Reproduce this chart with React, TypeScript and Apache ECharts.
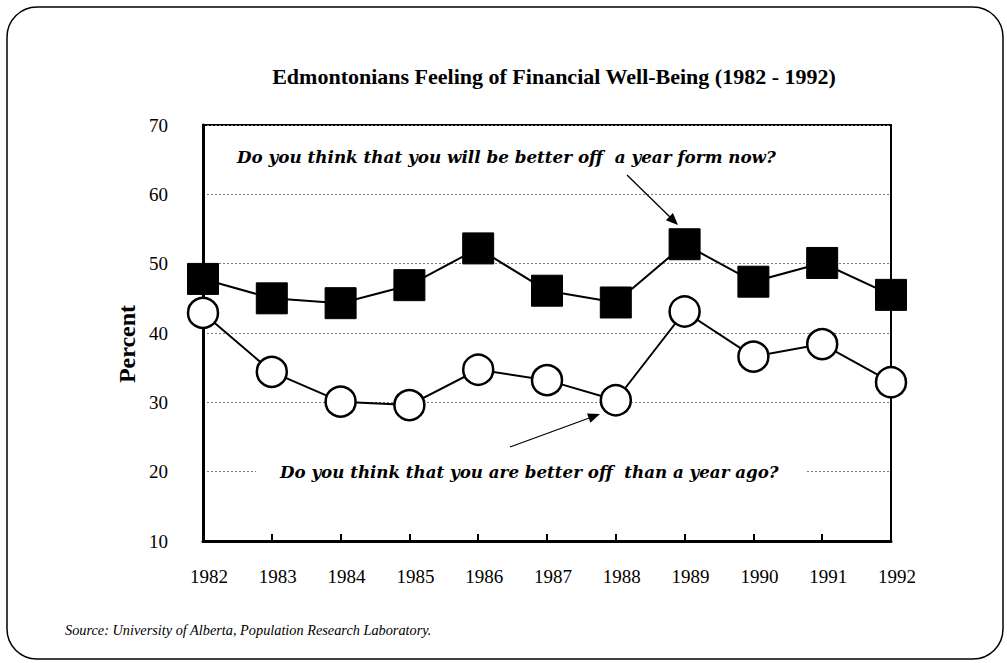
import React, { useEffect, useRef } from "react";
import * as echarts from "echarts";

const years = ["1982", "1983", "1984", "1985", "1986", "1987", "1988", "1989", "1990", "1991", "1992"];
const betterOffNextYear = [47.8, 45.0, 44.3, 46.9, 52.2, 46.1, 44.4, 52.8, 47.4, 50.1, 45.5];
const betterOffThanLastYear = [42.9, 34.4, 30.1, 29.6, 34.7, 33.2, 30.3, 43.1, 36.6, 38.4, 32.9];
const yTicks = { min: 10, max: 70, interval: 10 };

const titleText = "Edmontonians Feeling of Financial Well-Being (1982 - 1992)";
const noteFuture = "Do you think that you will be better off  a year form now?";
const notePast = "Do you think that you are better off  than a year ago?";
const sourceText = "Source: University of Alberta, Population Research Laboratory.";

export default function App() {
  const ref = useRef<HTMLDivElement>(null);
  useEffect(() => {
    document.body.style.margin = "0";
    const chart = echarts.init(ref.current!, null, { renderer: "svg" });
    const serif = "Liberation Serif";
    chart.setOption({
      animation: false,
      backgroundColor: "#fff",
      grid: {
        left: 203,
        right: 116,
        top: 125,
        bottom: 122,
        show: true,
        borderColor: "#000",
        borderWidth: 2,
      },
      xAxis: {
        type: "category",
        data: years,
        boundaryGap: false,
        axisLine: { show: true, lineStyle: { color: "#000", width: 3 } },
        axisTick: { show: true, inside: true, length: 7, lineStyle: { color: "#000", width: 2 } },
        axisLabel: {
          color: "#000",
          fontFamily: serif,
          fontSize: 19,
          margin: 26,
          padding: [0, 0, 0, 12],
        },
        splitLine: { show: false },
      },
      yAxis: {
        type: "value",
        min: yTicks.min,
        max: yTicks.max,
        interval: yTicks.interval,
        axisLine: { show: true, lineStyle: { color: "#000", width: 3 } },
        axisTick: { show: false },
        axisLabel: {
          color: "#000",
          fontFamily: serif,
          fontSize: 19,
          margin: 35,
          padding: [8, 0, 0, 0],
        },
        splitLine: { show: true, lineStyle: { color: "#777", width: 1, type: [2, 2] } },
      },
      series: [
        {
          name: "Better off than a year ago",
          type: "line",
          data: betterOffThanLastYear,
          clip: false,
          symbol: "circle",
          symbolSize: 30,
          lineStyle: { color: "#000", width: 2 },
          itemStyle: { color: "#fff", borderColor: "#000", borderWidth: 2.5 },
          z: 3,
        },
        {
          name: "Better off a year from now",
          type: "line",
          data: betterOffNextYear,
          clip: false,
          symbol: "rect",
          symbolSize: 31,
          lineStyle: { color: "#000", width: 2 },
          itemStyle: { color: "#000", borderColor: "#000", borderWidth: 1 },
          z: 4,
        },
      ],
      graphic: [
        {
          type: "rect",
          shape: { x: 7, y: 7, width: 996, height: 652, r: 30 },
          style: { fill: "none", stroke: "#000", lineWidth: 1.5 },
          z: 0,
        },
        {
          type: "text",
          x: 554,
          y: 76,
          style: {
            text: titleText,
            fontFamily: serif,
            fontWeight: "bold",
            fontSize: 22,
            fill: "#000",
            align: "center",
            verticalAlign: "middle",
          },
        },
        {
          type: "text",
          x: 127,
          y: 344,
          rotation: Math.PI / 2,
          style: {
            text: "Percent",
            fontFamily: serif,
            fontWeight: "bold",
            fontSize: 24,
            fill: "#000",
            align: "center",
            verticalAlign: "middle",
          },
        },
        {
          type: "text",
          x: 237,
          y: 157,
          z: 10,
          style: {
            text: noteFuture,
            fontFamily: "DejaVu Serif",
            fontWeight: "bold",
            fontStyle: "italic",
            fontSize: 16.8,
            fill: "#000",
            align: "left",
            verticalAlign: "middle",
          },
        },
        {
          type: "text",
          x: 256,
          y: 472,
          z: 10,
          style: {
            text: notePast,
            fontFamily: "DejaVu Serif",
            fontWeight: "bold",
            fontStyle: "italic",
            fontSize: 16.7,
            fill: "#000",
            align: "left",
            verticalAlign: "middle",
            backgroundColor: "#fff",
            padding: [4, 28, 4, 24],
          },
        },
        {
          type: "line",
          z: 10,
          shape: { x1: 627, y1: 175, x2: 672, y2: 219 },
          style: { stroke: "#000", lineWidth: 1.3 },
        },
        {
          type: "polygon",
          z: 10,
          shape: { points: [[678, 225], [665.9, 220.2], [672.9, 213.0]] },
          style: { fill: "#000" },
        },
        {
          type: "line",
          z: 10,
          shape: { x1: 510, y1: 447, x2: 592, y2: 417 },
          style: { stroke: "#000", lineWidth: 1.3 },
        },
        {
          type: "polygon",
          z: 10,
          shape: { points: [[600, 414], [590.4, 422.8], [587.0, 413.4]] },
          style: { fill: "#000" },
        },
        {
          type: "text",
          x: 65,
          y: 630,
          style: {
            text: sourceText,
            fontFamily: serif,
            fontStyle: "italic",
            fontSize: 14.3,
            fill: "#000",
            align: "left",
            verticalAlign: "middle",
          },
        },
      ],
    });
    return () => chart.dispose();
  }, []);
  return <div ref={ref} style={{ width: 1007, height: 663 }} />;
}
